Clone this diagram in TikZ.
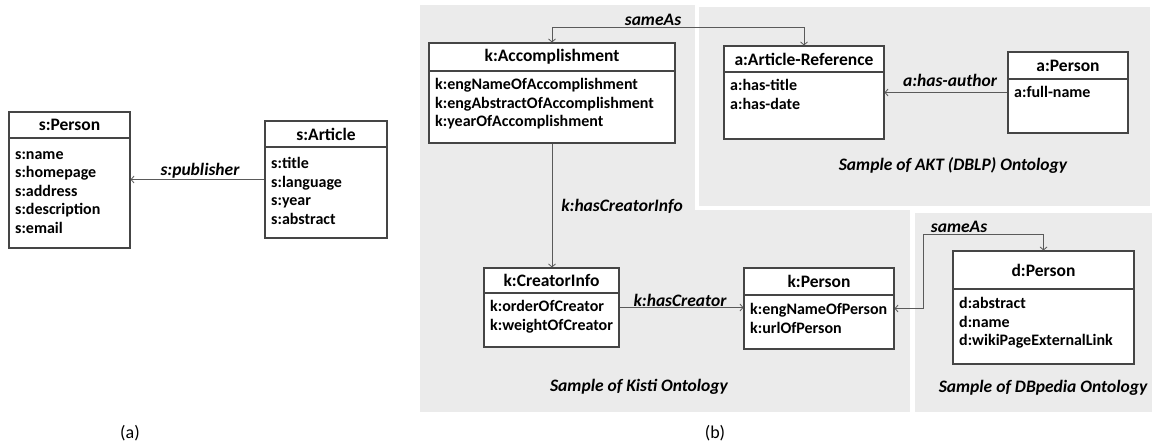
\documentclass[tikz,border=0pt]{standalone}
\usepackage{fontspec}
\setmainfont{Carlito}
\usepackage{tikz}
\usetikzlibrary{arrows.meta,positioning,calc}
\definecolor{panelGray}{HTML}{EBEBEB}
\definecolor{boxLine}{HTML}{454545}
\definecolor{edgeLine}{HTML}{5A5A5A}

\begin{document}
\begin{tikzpicture}[
    x=1pt, y=-1pt,
    cls/.style={draw=boxLine, line width=1.1pt, fill=white, inner sep=0pt},
    ttl/.style={font=\fontsize{17.5}{21}\selectfont\bfseries, inner sep=0pt},
    attr/.style={font=\fontsize{16}{18.6}\selectfont\bfseries, align=left, anchor=north west, inner sep=0pt},
    rel/.style={font=\fontsize{17.5}{20}\selectfont\bfseries\itshape, inner sep=0pt},
    subcap/.style={font=\fontsize{18}{21}\selectfont, inner sep=0pt},
    arr/.style={-{Straight Barb[length=3pt,width=7pt]}, draw=edgeLine, line width=0.8pt},
    dbl/.style={{Straight Barb[length=3pt,width=7pt]}-{Straight Barb[length=3pt,width=7pt]}, draw=edgeLine, line width=0.8pt}
]
\useasboundingbox (0,0) rectangle (1156,447);

% Ontology panels
\fill[panelGray] (420,5) rectangle (910,412);
\filldraw[fill=panelGray, draw=white, line width=4pt] (697,5) rectangle (1152,208);
\fill[panelGray] (915,213) rectangle (1152,412);

% Classes: name/left/top/right/bottom/divider/attr offset/title/attributes
\foreach \nm/\xa/\ya/\xb/\yb/\yd/\oa/\hd/\body in {
    sperson/9/112/130/248/138/13/{s:Person}/{s:name\\s:homepage\\s:address\\s:description\\s:email},
    sarticle/265/121/387/238/147/10/{s:Article}/{s:title\\s:language\\s:year\\s:abstract},
    acc/429/43/675/143/71/7/{k:Accomplishment}/{k:engNameOfAccomplishment\\k:engAbstractOfAccomplishment\\k:yearOfAccomplishment},
    artref/724/46/884/139/72/7/{a:Article-Reference}/{a:has-title\\a:has-date},
    aperson/1008/52/1128/133/79/7.5/{a:Person}/{a:full-name},
    cinfo/484/268/619/347/293/7/{k:CreatorInfo}/{k:orderOfCreator\\k:weightOfCreator},
    kperson/744/268/894/349/295/8/{k:Person}/{k:engNameOfPerson\\k:urlOfPerson},
    dperson/953/251/1134/364/289/8/{d:Person}/{d:abstract\\d:name\\d:wikiPageExternalLink}} {
    \node[cls, minimum width=\xb-\xa, minimum height=\yb-\ya] (\nm) at ({(\xa+\xb)/2},{(\ya+\yb)/2}) {};
    \draw[boxLine, line width=1.1pt] (\xa,\yd) -- (\xb,\yd);
    \node[ttl] (\nm-t) at ({(\xa+\xb)/2},{(\ya+\yd)/2}) {\hd};
    \node[attr] (\nm-a) at (\xa+6,\yd+\oa) {\body};
}

% (a)
\draw[arr] (sarticle.west) -- (sarticle.west -| sperson.east);
\node[rel] (lpub) at (200,171) {s:publisher};

% (b)
\draw[dbl] (acc.north) -- ++(0,-15) -| (artref.north);
\node[rel] (lsame1) at (653,20) {sameAs};
\draw[arr] (aperson.west) -- (aperson.west -| artref.east);
\node[rel] (lauthor) at (950,80) {a:has-author};
\draw[arr] (acc.south) -- (acc.south |- cinfo.north);
\node[rel] (lcinfo) at (622,206) {k:hasCreatorInfo};
\draw[arr] (cinfo.east) -- (cinfo.east -| kperson.west);
\node[rel] (lcreator) at (680,300) {k:hasCreator};
\draw[dbl] (kperson.east) -- ++(29,0) |- ([yshift=16pt]dperson.north) -- (dperson.north);
\node[rel] (lsame2) at (959,227) {sameAs};

% Panel captions
\node[rel] (pakt) at (953,165) {Sample of AKT (DBLP) Ontology};
\node[rel] (pkisti) at (639,387) {Sample of Kisti Ontology};
\node[rel] (pdbp) at (1043,388) {Sample of DBpedia Ontology};

\node[subcap] (capa) at (130,433) {(a)};
\node[subcap] (capb) at (715,433) {(b)};
\end{tikzpicture}
\end{document}
